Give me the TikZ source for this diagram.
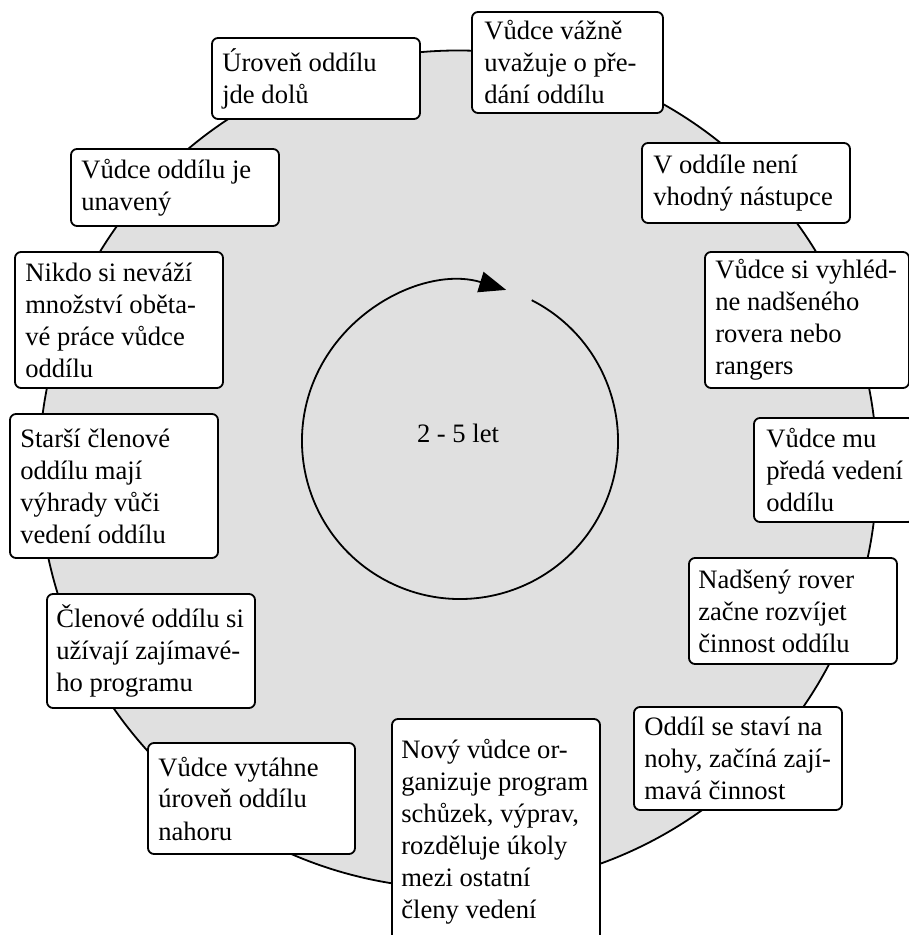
\documentclass[tikz,border=0pt]{standalone}
\usepackage{fontspec}
\setmainfont{Liberation Serif}
\usetikzlibrary{arrows.meta}
\definecolor{ringgray}{HTML}{E0E0E0}
\tikzset{
  boxnode/.style={draw=black, fill=white, rounded corners=6pt, line width=1.8pt, inner sep=0pt},
  txtnode/.style={align=left, inner sep=0pt, anchor=west, font=\fontsize{26.6}{32}\selectfont},
  ringline/.style={draw=black, line width=1.8pt},
}
\begin{document}
\begin{tikzpicture}[x=1pt,y=1pt]
\useasboundingbox (0,0) rectangle (909,935);
\fill[white] (0,0) rectangle (909,935);
% big ring
\coordinate (ringc) at (458,465.5);
\draw[ringline, fill=ringgray] (ringc) circle[radius=419pt];
% inner cycle arrow
\coordinate (innerc) at (460,494);
\draw[ringline, -{Triangle[length=27pt,width=21pt]}] ([shift={(63:158pt)}]innerc) arc[start angle=63, end angle=-287, radius=158pt];
\node[font=\fontsize{26.6}{32}\selectfont, inner sep=0pt] (period) at (458,501.5) {2 - 5 let};
% boxes
\node[boxnode, minimum width=208pt, minimum height=81pt] (b1) at (316,856.5) {};
\node[txtnode] (t1) at ([xshift=11pt]b1.west) {Úroveň oddílu\\jde dolů};
\node[boxnode, minimum width=208pt, minimum height=77pt] (b2) at (175,747.5) {};
\node[txtnode] (t2) at ([xshift=11pt]b2.west) {Vůdce oddílu je\\unavený};
\node[boxnode, minimum width=208pt, minimum height=136pt] (b3) at (119,615) {};
\node[txtnode] (t3) at ([xshift=11pt]b3.west) {Nikdo si neváží\\množství oběta-\\vé práce vůdce\\oddílu};
\node[boxnode, minimum width=208pt, minimum height=144pt] (b4) at (114,449) {};
\node[txtnode] (t4) at ([xshift=11pt]b4.west) {Starší členové\\oddílu mají\\výhrady vůči\\vedení oddílu};
\node[boxnode, minimum width=208pt, minimum height=114pt] (b5) at (151,284) {};
\node[txtnode] (t5) at ([xshift=10pt]b5.west) {Členové oddílu si\\užívají zajímavé-\\ho programu};
\node[boxnode, minimum width=207pt, minimum height=111pt] (b6) at (251.5,136.5) {};
\node[txtnode] (t6) at ([xshift=11pt]b6.west) {Vůdce vytáhne\\úroveň oddílu\\nahoru};
\node[boxnode, minimum width=208pt, minimum height=225pt] (b7) at (496,103.5) {};
\node[txtnode] (t7) at ([xshift=10pt]b7.west) {Nový vůdce or-\\ganizuje program\\schůzek, výprav,\\rozděluje úkoly\\mezi ostatní\\členy vedení};
\node[boxnode, minimum width=208pt, minimum height=103pt] (b8) at (738,176.5) {};
\node[txtnode] (t8) at ([xshift=11pt]b8.west) {Oddíl se staví na\\nohy, začíná zají-\\mavá činnost};
\node[boxnode, minimum width=208pt, minimum height=106pt] (b9) at (793,324) {};
\node[txtnode] (t9) at ([xshift=10pt]b9.west) {Nadšený rover\\začne rozvíjet\\činnost oddílu};
\node[boxnode, minimum width=160pt, minimum height=104pt] (b10) at (834,465) {};
\node[txtnode] (t10) at ([xshift=13pt]b10.west) {Vůdce mu\\předá vedení\\oddílu};
\node[boxnode, minimum width=204pt, minimum height=136pt] (b11) at (807,615) {};
\node[txtnode] (t11) at ([xshift=11pt]b11.west) {Vůdce si vyhléd-\\ne nadšeného\\rovera nebo\\rangers};
\node[boxnode, minimum width=208pt, minimum height=80pt] (b12) at (746,752) {};
\node[txtnode] (t12) at ([xshift=12pt]b12.west) {V oddíle není\\vhodný nástupce};
\node[boxnode, minimum width=191pt, minimum height=101pt] (b13) at (567.5,872.5) {};
\node[txtnode] (t13) at ([xshift=13pt]b13.west) {Vůdce vážně\\uvažuje o pře-\\dání oddílu};
\end{tikzpicture}
\end{document}
